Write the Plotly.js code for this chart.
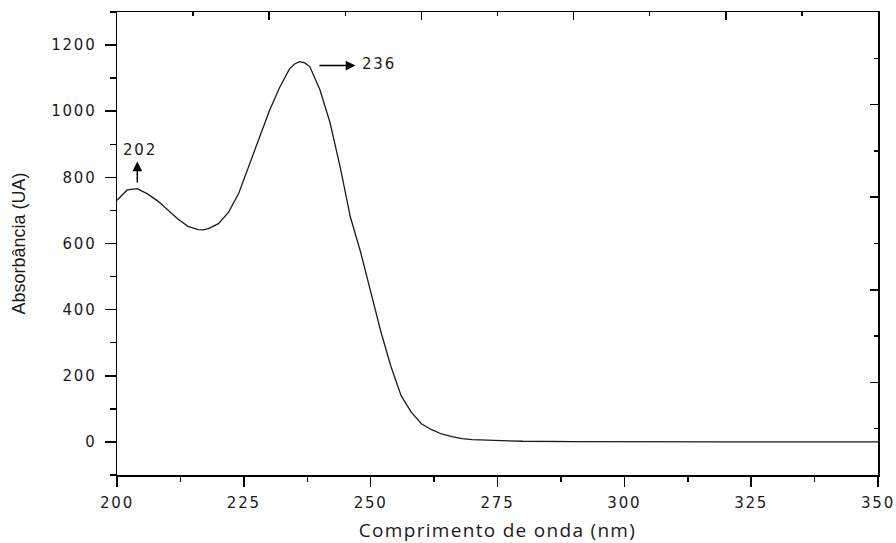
<!DOCTYPE html>
<html>
<head>
<meta charset="utf-8">
<script src="https://cdn.plot.ly/plotly-3.0.1.min.js"></script>
<style>
html,body{margin:0;padding:0;background:#fff;}
#chart{width:896px;height:543px;}
.xtick text, .ytick text { letter-spacing: 1.8px; }
.g-xtitle text { letter-spacing: 1.3px; }
.annotation-text { letter-spacing: 1.8px; }
</style>
</head>
<body>
<div id="chart"></div>
<script>
// Wavelength (nm)
const wavelength = [200,202,204,206,208,210,212,214,216,217,218,220,222,224,226,228,230,232,234,235,236,237,238,240,242,244,246,248,250,252,254,256,258,260,262,264,266,268,270,275,280,290,300,320,350];
// Absorbance (UA)
const absorbance = [731,762,766,750,729,702,674,652,642,641,645,660,695,752,836,918,1000,1070,1128,1143,1150,1146,1135,1065,965,830,680,575,455,334,228,140,90,55,37,24,16,10,7,4,2,1,0,0,0];

// Peak labels and arrow geometry (data units)
const peakLabels = ['202', '236'];
const peakTextX = [204.5, 251.6];
const peakTextY = [883, 1144];
const arrowHeadX = [204, 247];
const arrowHeadY = [848, 1138];
const arrowTailX = [204, 239.6];
const arrowTailY = [780, 1138];

const tickFont = {family: 'DejaVu Sans', size: 15, color: '#1a1a1a'};

const traces = [
  {
    x: wavelength, y: absorbance, type: 'scatter', mode: 'lines',
    line: {color: '#1a1a1a', width: 1.3},
    hoverinfo: 'skip', showlegend: false
  },
  {
    x: [null], y: [null], xaxis: 'x2', yaxis: 'y2', type: 'scatter', mode: 'lines',
    hoverinfo: 'skip', showlegend: false
  }
];

const annotations = [];
for (let i = 0; i < peakLabels.length; i++) {
  annotations.push({
    x: peakTextX[i], y: peakTextY[i], xref: 'x', yref: 'y',
    text: peakLabels[i], showarrow: false,
    font: {family: 'DejaVu Sans', size: 15, color: '#1a1a1a'}
  });
  annotations.push({
    x: arrowHeadX[i], y: arrowHeadY[i], xref: 'x', yref: 'y',
    ax: arrowTailX[i], ay: arrowTailY[i], axref: 'x', ayref: 'y',
    text: '', showarrow: true, arrowhead: 2, arrowsize: 1.3, arrowwidth: 1.5,
    arrowcolor: '#000'
  });
}

const layout = {
  width: 896, height: 543,
  margin: {l: 117, r: 18, t: 12, b: 68},
  paper_bgcolor: '#fff', plot_bgcolor: '#fff',
  showlegend: false,
  xaxis: {
    range: [200, 350], tick0: 200, dtick: 25,
    ticks: 'outside', ticklen: 10, tickwidth: 1.5, tickcolor: '#000',
    minor: {ticks: 'outside', ticklen: 5, tickwidth: 1.5, tickcolor: '#000', dtick: 12.5, tick0: 200},
    showline: true, linecolor: '#000', linewidth: 1.5, mirror: true,
    showgrid: false, zeroline: false,
    tickfont: tickFont, ticklabelstandoff: 3,
    title: {text: 'Comprimento de onda (nm)', font: {family: 'Open Sans', size: 19, color: '#1a1a1a'}}
  },
  yaxis: {
    range: [-100, 1300], tick0: 0, dtick: 200,
    ticks: 'outside', ticklen: 11, tickwidth: 1.5, tickcolor: '#000',
    minor: {ticks: 'outside', ticklen: 6, tickwidth: 1.5, tickcolor: '#000', dtick: 100, tick0: 0},
    showline: true, linecolor: '#000', linewidth: 1.5, mirror: true,
    showgrid: false, zeroline: false,
    tickfont: tickFont, ticklabelstandoff: 5,
    automargin: true,
    title: {text: 'Absorbância (UA)', font: {family: 'Liberation Sans', size: 18, color: '#1a1a1a'}, standoff: 21}
  },
  xaxis2: {
    overlaying: 'x', anchor: 'y', side: 'top',
    range: [200, 350], tick0: 200, dtick: 30,
    ticks: 'inside', ticklen: 8, tickwidth: 1.5, tickcolor: '#000',
    minor: {ticks: 'inside', ticklen: 4, tickwidth: 1.5, tickcolor: '#000', dtick: 15, tick0: 200},
    showticklabels: false, showgrid: false, zeroline: false, showline: false
  },
  yaxis2: {
    overlaying: 'y', anchor: 'x', side: 'right',
    range: [-100, 1300], tick0: -100, dtick: 280,
    ticks: 'inside', ticklen: 8, tickwidth: 1.5, tickcolor: '#000',
    minor: {ticks: 'inside', ticklen: 4, tickwidth: 1.5, tickcolor: '#000', dtick: 140, tick0: -100},
    showticklabels: false, showgrid: false, zeroline: false, showline: false
  },
  annotations: annotations
};

Plotly.newPlot('chart', traces, layout, {displayModeBar: false, staticPlot: true});
</script>
</body>
</html>
